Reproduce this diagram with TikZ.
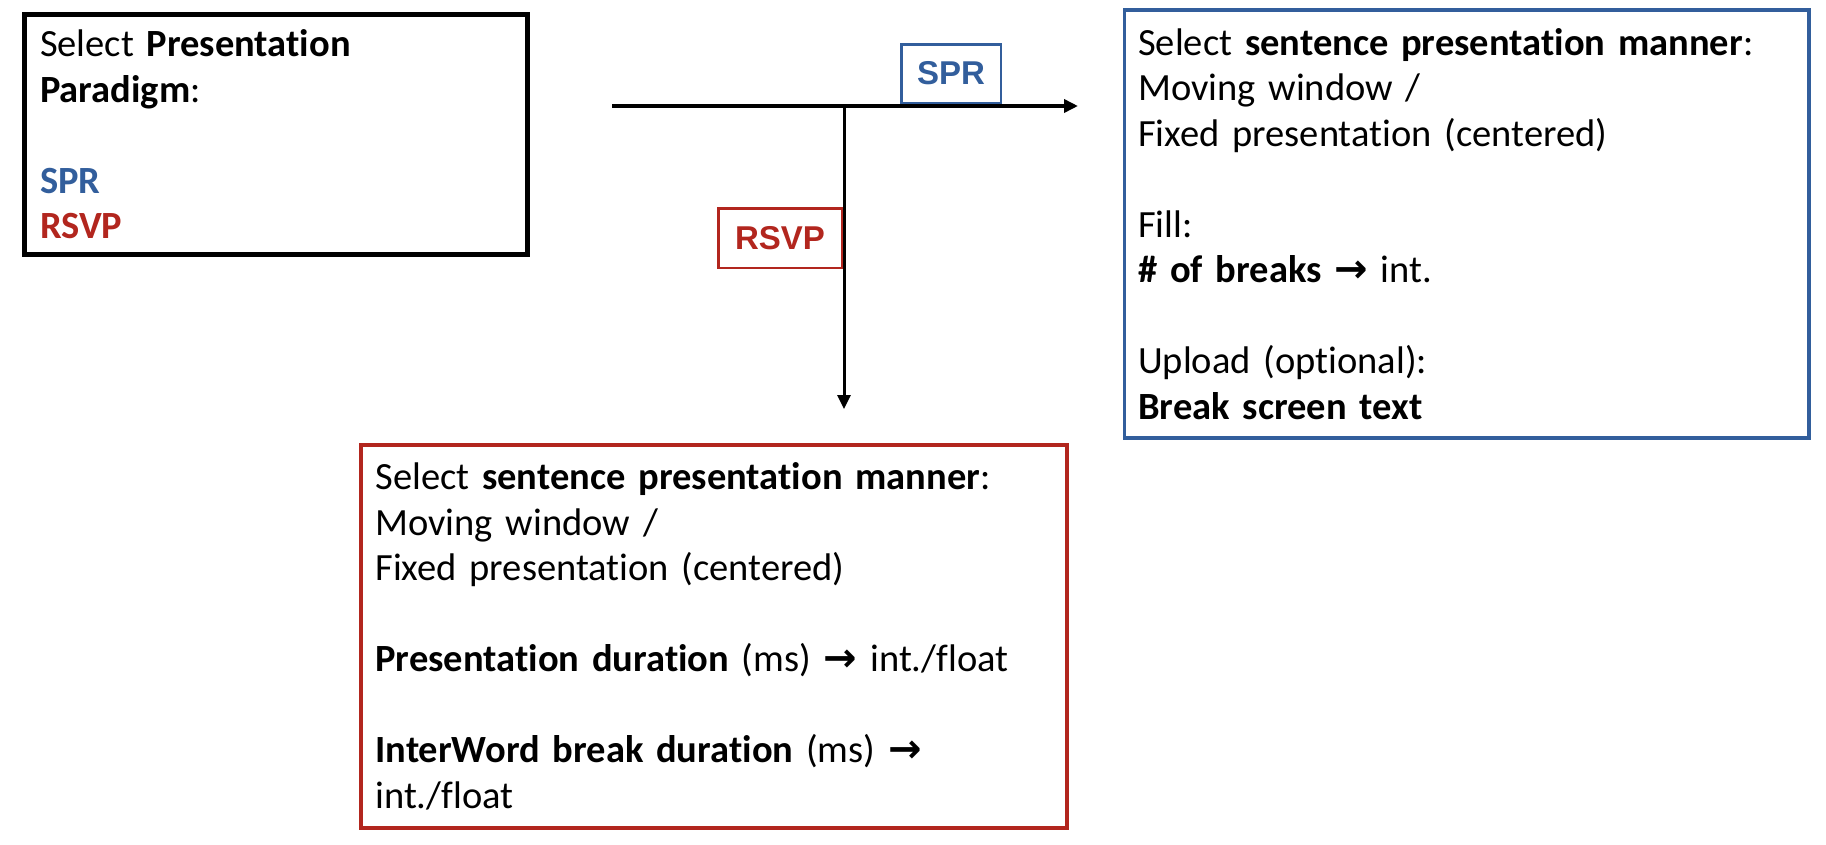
\documentclass[tikz,border=0pt]{standalone}
\usepackage{fontspec}
\setmainfont[Ligatures=NoCommon]{Carlito}
\newfontfamily\labelfont{Liberation Sans}
\newfontfamily\arrowfont{DejaVu Sans}
\newcommand{\rarr}{{\arrowfont\bfseries\fontsize{40}{45.5}\selectfont →}}
\usetikzlibrary{arrows.meta}
\definecolor{sprblue}{RGB}{50,94,156}
\definecolor{rsvpred}{RGB}{178,38,30}
\begin{document}
\begin{tikzpicture}[x=1pt,y=1pt,
  infobox/.style={draw, rectangle, outer sep=0pt, align=left, anchor=center,
    font=\fontsize{38.5}{45.5}\selectfont},
  tagbox/.style={draw, rectangle, outer sep=0pt, line width=2.5pt, fill=white,
    font=\labelfont\bfseries\fontsize{33}{36}\selectfont, inner sep=0pt},
  flow/.style={-{Triangle[length=14pt,width=13pt]}}
]
\useasboundingbox (0,0) rectangle (1826,-844);

% Paradigm box
\node[infobox, line width=5pt, minimum width=503pt, minimum height=240pt,
  inner xsep=15.5pt, text width=472pt] (paradigm) at (276,-134.5)
  {Select \textbf{Presentation}\\ \textbf{Paradigm}:\\[45.5pt]
   \textcolor{sprblue}{\textbf{SPR}}\\ \textcolor{rsvpred}{\textbf{RSVP}}};

% SPR box
\node[infobox, draw=sprblue, line width=3.5pt, minimum width=684.5pt, minimum height=428pt,
  inner xsep=13.5pt, text width=657pt] (sprbox) at (1466.7,-224)
  {Select \textbf{sentence presentation manner}:\\ Moving window /\\
   Fixed presentation (centered)\\[45.5pt]
   Fill:\\ \textbf{\# of breaks} \rarr{} int.\\[45.5pt]
   Upload (optional):\\ \textbf{Break screen text}};

% RSVP box
\node[infobox, draw=rsvpred, line width=4pt, minimum width=706.3pt, minimum height=383.8pt,
  inner xsep=14.3pt, text width=677pt] (rsvpbox) at (713.9,-636.4)
  {Select \textbf{sentence presentation manner}:\\ Moving window /\\
   Fixed presentation (centered)\\[45.5pt]
   \textbf{Presentation duration} (ms) \rarr{} int./float\\[45.5pt]
   \textbf{InterWord break duration} (ms) \rarr\\ int./float};

% connectors
\coordinate (hstart) at (612,-106);
\coordinate (junc) at (844,-106);
\coordinate (hend) at (1078,-106);
\coordinate (vend) at (844,-409);
\draw[flow, line width=4.5pt] (hstart) -- (hend);
\draw[flow, line width=3pt] (junc) -- (vend);

% labels
\node[tagbox, draw=sprblue, text=sprblue, minimum width=99.5pt, minimum height=58.5pt]
  (sprtag) at (951,-73.5) {SPR};
\node[tagbox, draw=rsvpred, text=rsvpred, minimum width=123.5pt, minimum height=59.5pt]
  (rsvptag) at (780,-238) {RSVP};
\end{tikzpicture}
\end{document}
